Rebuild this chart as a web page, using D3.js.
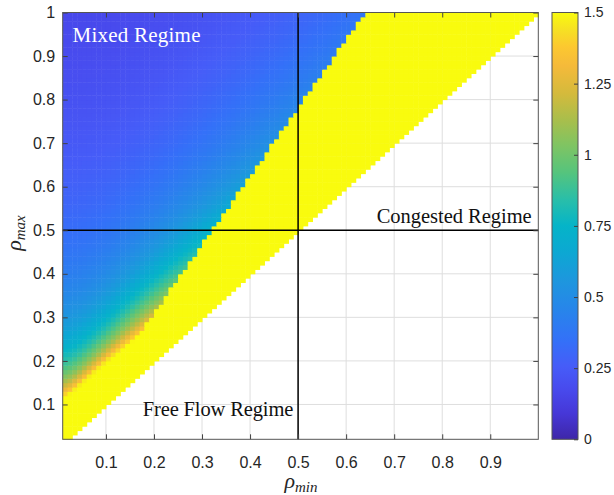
<!DOCTYPE html>
<html>
<head>
<meta charset="utf-8">
<script src="https://cdn.jsdelivr.net/npm/d3@7"></script>
<style>
  body { margin: 0; background: #fff; }
  .tick text { font-family: "Liberation Sans", Arial, sans-serif; font-size: 16px; fill: #262626; }
  .cbar .tick text { font-size: 14px; }
  .tick line { stroke: #404040; }
</style>
</head>
<body>
<svg id="chart" width="614" height="495"></svg>
<script>
// surface grid (lower-left corner of every cell)
var rhoMinGrid = d3.range(1, 100).map(function(i) { return i / 100; });  // 0.01 .. 0.99
var rhoMaxGrid = d3.range(2, 100).map(function(i) { return i / 100; });  // 0.02 .. 0.99

var xTicks = [0.1, 0.2, 0.3, 0.4, 0.5, 0.6, 0.7, 0.8, 0.9];
var yTicks = [0.1, 0.2, 0.3, 0.4, 0.5, 0.6, 0.7, 0.8, 0.9, 1];
var cbTicks = [0, 0.25, 0.5, 0.75, 1, 1.25, 1.5];
var cbLabels = ["0", "0.25", "0.5", "0.75", "1", "1.25", "1.5"];

// level along rho_min ~ 0 is about 0.165/rho_max,
// it grows ~ (1 + 3 r^2) with r = rho_min/rho_max and jumps to the top
// of the scale once r passes ~0.637
var edgeLevel = 0.165;
var bend = 3;
var jamRatio = 0.637;
var cmax = 1.5;

// parula-like colour stops
var parT = [0, 0.06, 0.12, 0.17, 0.23, 0.30, 0.37, 0.44, 0.50, 0.56, 0.625, 0.69, 0.75, 0.81, 0.875, 0.92, 0.96, 1];
var parC = ["#3e26a8", "#4637d7", "#484bee", "#465cf8", "#3470f8", "#2884eb", "#1e96de", "#0ca8d2",
            "#05b4c8", "#28beaa", "#55c47d", "#80c462", "#aabe4b", "#d4ba3c", "#f5ba3a", "#fcc830",
            "#f6e123", "#f9fb0e"];

var svg = d3.select("#chart");
var L = 62.7, R = 538.3, T = 12.5, B = 439.3;

var x = d3.scaleLinear().domain([0.01, 1]).range([L, R]);
var y = d3.scaleLinear().domain([0.02, 1]).range([B, T]);
var color = d3.scaleLinear().domain(parT.map(function(t) { return t * cmax; }))
  .range(parC).interpolate(d3.interpolateRgb).clamp(true);

function level(rmin, rmax) {
  var r = rmin / rmax;
  if (r >= jamRatio) return cmax;
  return Math.min(cmax, edgeLevel / rmax * (1 + bend * r * r));
}

svg.append("rect").attr("width", 614).attr("height", 495).attr("fill", "#fff");

// grid
var grid = svg.append("g").attr("stroke", "#dedede").attr("stroke-width", 1);
xTicks.forEach(function(v) {
  grid.append("line").attr("x1", x(v)).attr("x2", x(v)).attr("y1", T).attr("y2", B);
});
yTicks.forEach(function(v) {
  grid.append("line").attr("x1", L).attr("x2", R).attr("y1", y(v)).attr("y2", y(v));
});

// cells
var cells = [];
rhoMaxGrid.forEach(function(rmax) {
  rhoMinGrid.forEach(function(rmin) {
    if (rmin <= rmax + 1e-9) cells.push({ rmin: rmin, rmax: rmax, v: level(rmin, rmax) });
  });
});
svg.append("g").selectAll("rect").data(cells).join("rect")
  .attr("x", function(d) { return x(d.rmin); })
  .attr("y", function(d) { return y(d.rmax + 0.01); })
  .attr("width", function(d) { return x(d.rmin + 0.01) - x(d.rmin) + 0.5; })
  .attr("height", function(d) { return y(d.rmax) - y(d.rmax + 0.01) + 0.5; })
  .attr("fill", function(d) { return color(d.v); });

// regime separators
svg.append("line").attr("x1", x(0.5)).attr("x2", x(0.5)).attr("y1", T).attr("y2", B)
  .attr("stroke", "#000").attr("stroke-width", 1.5);
svg.append("line").attr("x1", L).attr("x2", R).attr("y1", y(0.5)).attr("y2", y(0.5))
  .attr("stroke", "#000").attr("stroke-width", 1.5);

// axes
svg.append("g").attr("transform", "translate(0," + B + ")")
  .call(d3.axisBottom(x).tickValues(xTicks).tickSizeInner(-5).tickSizeOuter(0).tickPadding(17)
    .tickFormat(d3.format("")))
  .call(function(g) { g.select(".domain").remove(); });
svg.append("g").attr("transform", "translate(0," + T + ")")
  .call(d3.axisTop(x).tickValues(xTicks).tickSizeInner(-5).tickSizeOuter(0).tickFormat(""))
  .call(function(g) { g.select(".domain").remove(); });
svg.append("g").attr("transform", "translate(" + L + ",0)")
  .call(d3.axisLeft(y).tickValues(yTicks).tickSizeInner(-5).tickSizeOuter(0).tickPadding(7.5)
    .tickFormat(d3.format("")))
  .call(function(g) { g.select(".domain").remove(); });
svg.append("g").attr("transform", "translate(" + R + ",0)")
  .call(d3.axisRight(y).tickValues(yTicks).tickSizeInner(-5).tickSizeOuter(0).tickFormat(""))
  .call(function(g) { g.select(".domain").remove(); });

svg.append("rect").attr("x", L).attr("y", T).attr("width", R - L).attr("height", B - T)
  .attr("fill", "none").attr("stroke", "#555").attr("stroke-width", 1);

// regime labels
var serif = "'Liberation Serif', 'Times New Roman', serif";
svg.append("text").attr("x", 72.5).attr("y", 41.7).attr("textLength", 128)
  .attr("font-family", serif).attr("font-size", 21).attr("fill", "#fff").text("Mixed Regime");
svg.append("text").attr("x", 376.7).attr("y", 222.7).attr("textLength", 155)
  .attr("font-family", serif).attr("font-size", 20.5).attr("fill", "#111").text("Congested Regime");
svg.append("text").attr("x", 142.7).attr("y", 416).attr("textLength", 150.6)
  .attr("font-family", serif).attr("font-size", 20.5).attr("fill", "#111").text("Free Flow Regime");

// axis titles
var xl = svg.append("text").attr("x", 301).attr("y", 488).attr("text-anchor", "middle")
  .attr("font-family", serif).attr("font-style", "italic").attr("fill", "#262626");
xl.append("tspan").attr("font-size", 22).text("ρ");
xl.append("tspan").attr("font-size", 15).attr("dy", 4).text("min");

var yl = svg.append("text").attr("transform", "translate(21,233) rotate(-90)").attr("text-anchor", "middle")
  .attr("font-family", serif).attr("font-style", "italic").attr("fill", "#262626");
yl.append("tspan").attr("font-size", 22).text("ρ");
yl.append("tspan").attr("font-size", 15).attr("dy", 4).text("max");

// colorbar
var cbL = 552, cbR = 578;
var cy = d3.scaleLinear().domain([0, cmax]).range([B, T]);
var grad = svg.append("defs").append("linearGradient").attr("id", "cb")
  .attr("x1", 0).attr("y1", 1).attr("x2", 0).attr("y2", 0);
parT.forEach(function(t, i) {
  grad.append("stop").attr("offset", t).attr("stop-color", parC[i]);
});
svg.append("rect").attr("x", cbL).attr("y", T).attr("width", cbR - cbL).attr("height", B - T)
  .attr("fill", "url(#cb)").attr("stroke", "#555").attr("stroke-width", 1);
svg.append("g").attr("class", "cbar").attr("transform", "translate(" + cbR + ",0)")
  .call(d3.axisRight(cy).tickValues(cbTicks).tickSizeInner(-4).tickSizeOuter(0).tickPadding(6)
    .tickFormat(function(d, i) { return cbLabels[i]; }))
  .call(function(g) { g.select(".domain").remove(); });
</script>
</body>
</html>
